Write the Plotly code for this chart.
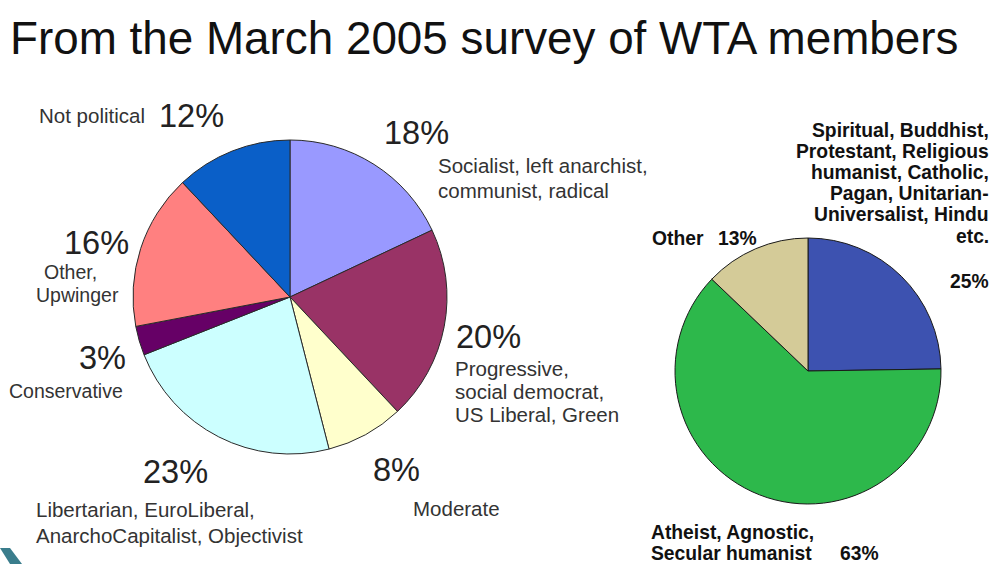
import plotly.graph_objects as go

# ---- data ----
political_labels = ["Socialist, left anarchist, communist, radical",
                    "Progressive, social democrat, US Liberal, Green",
                    "Moderate",
                    "Libertarian, EuroLiberal, AnarchoCapitalist, Objectivist",
                    "Conservative",
                    "Other, Upwinger",
                    "Not political"]
political_values = [18, 20, 8, 23, 3, 16, 12]

religion_labels = ["Spiritual, Buddhist, Protestant, Religious humanist, Catholic, Pagan, Unitarian-Universalist, Hindu etc.",
                   "Atheist, Agnostic, Secular humanist",
                   "Other"]
religion_values = [25, 63, 13]

title_text = "From the March 2005 survey of WTA members"

# ---- styles ----
W, H = 994, 564
political_colors = ["#9999FF", "#993366", "#FFFFCC", "#CCFFFF", "#660066", "#FF8080", "#0A5FC8"]
religion_colors = ["#3D52B0", "#2DB84B", "#D4CB98"]


def px(x):
    return x / W


def py(y):
    return 1 - y / H


fig = go.Figure()

# left pie: centre (290, 297), radius 157
cx, cy, r = 290, 297, 157
fig.add_trace(go.Pie(
    labels=political_labels, values=political_values, sort=False,
    direction="clockwise", rotation=0,
    marker=dict(colors=political_colors, line=dict(color="#2a2a2a", width=1)),
    textinfo="none", hoverinfo="label+percent", showlegend=False,
    domain=dict(x=[px(cx - r), px(cx + r)], y=[py(cy + r), py(cy - r)]),
))

# right pie: centre (808, 371), radius 133
cx2, cy2, r2 = 808, 371, 133
fig.add_trace(go.Pie(
    labels=religion_labels, values=religion_values, sort=False,
    direction="clockwise", rotation=0,
    marker=dict(colors=religion_colors, line=dict(color="#1a1a1a", width=1)),
    textinfo="none", hoverinfo="label+percent", showlegend=False,
    domain=dict(x=[px(cx2 - r2), px(cx2 + r2)], y=[py(cy2 + r2), py(cy2 - r2)]),
))

ann = []
FONT = "Liberation Sans, Arial, sans-serif"
pct_col = "#222222"
lab_col = "#333333"


def add(text, x, y, size, color=lab_col, xanchor="left", bold=False, align="left"):
    t = f"<b>{text}</b>" if bold else text
    ann.append(dict(text=t, x=px(x), y=py(y), xref="paper", yref="paper",
                    xanchor=xanchor, yanchor="middle", showarrow=False, align=align,
                    font=dict(family=FONT, size=size, color=color)))


# title
add(title_text, 8, 38, 45.8, color="#111111")

# left pie labels
pv = political_values
LS = 20.5
PS = 32.5
add("Not political", 37, 116, 20.5)
add(f"{pv[6]}%", 157, 116, PS, pct_col)
add(f"{pv[0]}%", 382, 133, PS, pct_col)
add("Socialist, left anarchist,", 436, 165, LS)
add("communist, radical", 436, 190, LS)
add(f"{pv[5]}%", 62, 243, PS, pct_col)
add("Other,", 42, 272, LS - 1)
add("Upwinger", 34, 295, LS - 1)
add(f"{pv[4]}%", 77, 358, PS, pct_col)
add("Conservative", 7, 391, 19.5)
add(f"{pv[1]}%", 454, 337, PS, pct_col)
add("Progressive,", 453, 368, LS)
add("social democrat,", 453, 391, LS)
add("US Liberal, Green", 453, 414, LS)
add(f"{pv[3]}%", 141, 472, PS, pct_col)
add("Libertarian, EuroLiberal,", 34, 509, LS)
add("AnarchoCapitalist, Objectivist", 34, 535, LS)
add(f"{pv[2]}%", 371, 470, PS, pct_col)
add("Moderate", 411, 508, LS)

# right pie labels
RS = 19.3
rv = religion_values
rlines = ["Spiritual, Buddhist,", "Protestant, Religious", "humanist, Catholic,",
          "Pagan, Unitarian-", "Universalist, Hindu", "etc."]
for i, line in enumerate(rlines):
    add(line, 991, 130 + i * 21.2, RS, "#111111", xanchor="right", bold=True)
add(f"{rv[0]}%", 991, 281, RS, "#111111", xanchor="right", bold=True)
add("Other", 650, 238, RS, "#111111", bold=True)
add(f"{rv[2]}%", 716, 238, RS, "#111111", bold=True)
add("Atheist, Agnostic,", 649, 532, RS, "#111111", bold=True)
add("Secular humanist", 649, 553, RS, "#111111", bold=True)
add(f"{rv[1]}%", 838, 553, RS, "#111111", bold=True)

fig.update_layout(
    width=W, height=H,
    margin=dict(l=0, r=0, t=0, b=0),
    paper_bgcolor="white", plot_bgcolor="white",
    annotations=ann,
    shapes=[dict(type="path", xref="paper", yref="paper",
                 path=f"M {px(0)} {py(548)} L {px(10)} {py(548)} L {px(22)} {py(564)} L {px(10)} {py(564)} Z",
                 fillcolor="#3a7d8c", line=dict(width=0))],
)

fig.write_html("out.html", config={"displayModeBar": False},
               post_script="document.body.style.margin='0';document.body.style.overflow='hidden';")
